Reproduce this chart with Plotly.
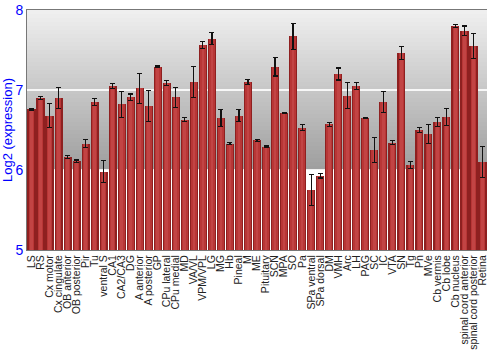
import plotly.graph_objects as go

categories = ["LS", "RS", "Cx motor", "Cx cingulate", "OB anterior", "OB posterior", "Pir", "Tu",
              "ventral S", "CA1", "CA2/CA3", "DG", "A anterior", "A posterior", "GP", "CPu lateral",
              "CPu medial", "MD", "VA/VL", "VPM/VPL", "LG", "MG", "Hb", "Pineal", "M", "ME",
              "Pituitary", "SCN", "MPA", "SO", "Pa", "SPa ventral", "SPa dorsal", "DM", "VMH", "Arc",
              "LH", "PAG", "SC", "IC", "VTA", "SN", "Tg", "Pn", "MVe", "Cb vermis", "Cb lobe",
              "Cb nucleus", "spinal cord anterior", "spinal cord posterior", "Retina"]
values = [6.76, 6.90, 6.68, 6.90, 6.16, 6.11, 6.33, 6.85,
          5.98, 7.05, 6.82, 6.91, 7.02, 6.80, 7.29, 7.09,
          6.91, 6.63, 7.10, 7.56, 7.64, 6.65, 6.33, 6.68, 7.10, 6.37,
          6.29, 7.29, 6.71, 7.67, 6.53, 5.75, 5.93, 6.57, 7.20, 6.93,
          7.05, 6.65, 6.25, 6.85, 6.34, 7.46, 6.06, 6.50, 6.45, 6.60, 6.66,
          7.80, 7.74, 7.55, 6.10]
errors = [0.01, 0.015, 0.15, 0.13, 0.02, 0.015, 0.05, 0.04,
          0.14, 0.03, 0.16, 0.04, 0.19, 0.19, 0.01, 0.03,
          0.125, 0.025, 0.19, 0.045, 0.075, 0.11, 0.015, 0.075, 0.03, 0.01,
          0.01, 0.115, 0.005, 0.16, 0.04, 0.195, 0.03, 0.025, 0.075, 0.16,
          0.04, 0.005, 0.16, 0.13, 0.025, 0.08, 0.045, 0.03, 0.12, 0.055, 0.105,
          0.015, 0.06, 0.16, 0.19]
y_ticks = [5, 6, 7, 8]

BASE = 5
heights = [v - BASE for v in values]

fig = go.Figure()
fig.add_trace(go.Bar(x=categories, y=heights, base=BASE, width=0.9,
                     marker=dict(color="#8e2020", line=dict(width=0)), hoverinfo="skip"))
fig.add_trace(go.Bar(x=categories, y=heights, base=BASE, width=0.62,
                     marker=dict(color="#b83636", line=dict(width=0)), hoverinfo="skip"))
fig.add_trace(go.Bar(x=categories, y=heights, base=BASE, width=0.3,
                     marker=dict(color="#c24444", line=dict(width=0)),
                     error_y=dict(type="data", array=errors, color="#111111", thickness=1.2, width=2.5)))

# gradient background between 6 and 8
shapes = []
n = 40
top = (240, 240, 240)
bot = (158, 158, 158)
for i in range(n):
    f = i / n
    y0 = 8 - 2 * i / n
    y1 = 8 - 2 * (i + 1) / n
    c = tuple(int(round(top[k] + (bot[k] - top[k]) * (f + 0.5 / n))) for k in range(3))
    shapes.append(dict(type="rect", xref="paper", yref="y", x0=0, x1=1, y0=y1, y1=y0,
                       fillcolor="rgb(%d,%d,%d)" % c, line=dict(width=0), layer="below"))

fig.update_layout(
    width=500, height=350,
    margin=dict(l=27, r=13, t=10, b=100),
    paper_bgcolor="white", plot_bgcolor="white",
    barmode="overlay", showlegend=False, bargap=0.0,
    shapes=shapes,
    font=dict(family="Liberation Sans, Arial, sans-serif"),
    xaxis=dict(tickangle=-90, tickfont=dict(size=10.5, color="#222222"), showline=True,
               tickmode="linear", tick0=0, dtick=1, ticklabelstandoff=0,
               linecolor="#777777", mirror=True, ticks="", automargin=False),
    yaxis=dict(range=[5, 8], tickvals=y_ticks, tickfont=dict(size=14, color="#0000ff"),
               showgrid=True, gridcolor="rgba(255,255,255,0.85)", gridwidth=1.5,
               showline=True, linecolor="#777777", ticks="", zeroline=False,
               title=dict(text="Log2 (expression)", font=dict(size=13, color="#0000ff"), standoff=2),
               automargin=False),
    yaxis2=dict(range=[5, 8], tickvals=y_ticks, overlaying="y", side="right", anchor="x",
                tickfont=dict(size=14, color="#0000ff"), showgrid=False, showline=True,
                linecolor="#777777", ticks="outside", ticklen=4, tickcolor="#777777",
                zeroline=False, automargin=False),
)
fig.write_html("out.html")
